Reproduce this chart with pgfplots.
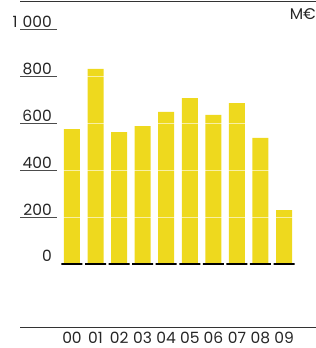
\documentclass[border=0pt]{standalone}
\usepackage{pgfplots}
\pgfplotsset{compat=1.18}
\usepackage{fontspec}
\setmainfont{Poppins}
\definecolor{baryellow}{RGB}{238,217,30}
\begin{document}
\begin{tikzpicture}
\useasboundingbox (0,0) rectangle (316bp,-348bp);
\begin{axis}[
  at={(20bp,-1.5bp)}, anchor=north west,
  scale only axis, width=296bp, height=325.5bp,
  xmin=-2.207, xmax=10.357, ymin=-268.5, ymax=1118.6,
  clip=false,
  axis on top,
  separate axis lines,
  x axis line style={draw=black!80, line width=0.9bp},
  y axis line style={draw=none},
  xtick={0,...,9},
  xticklabels={00,01,02,03,04,05,06,07,08,09},
  xtick style={draw=none},
  xticklabel style={anchor=base, inner sep=0pt, yshift=-16.5bp, font=\fontsize{15.5bp}{16bp}\selectfont, text=black!85},
  ytick={200,400,600,800,1000},
  yticklabels={200\hspace{3bp},400\hspace{3bp},600\hspace{3bp},800\hspace{3bp},1\hspace{5bp}000},
  ytick pos=left,
  tick align=inside,
  major tick length=37bp,
  ytick style={draw=black!70, line width=0.9bp},
  yticklabel style={anchor=base east, inner sep=0pt, xshift=32bp, yshift=2bp, font=\fontsize{15.5bp}{16bp}\selectfont, text=black!85},
  ymajorgrids,
  grid style={white, opacity=0.6, line width=1bp},
  extra y ticks={0},
  extra y tick labels={0},
  extra y tick style={major tick length=0pt, grid=none},
]
\addplot[ybar, bar width=16bp, bar shift=0pt, fill=baryellow, draw=none]
  coordinates {(0,575) (1,831) (2,562) (3,588) (4,648) (5,707) (6,635) (7,686) (8,537) (9,230)};
\addplot[ybar, bar width=21bp, bar shift=0pt, draw=black, line width=2bp, fill=none]
  coordinates {(0,0) (1,0) (2,0) (3,0) (4,0) (5,0) (6,0) (7,0) (8,0) (9,0)};
\node[anchor=base east, inner sep=0pt, font=\fontsize{15.5bp}{16bp}\selectfont, text=black!85] at (rel axis cs:1,1) [yshift=-18bp] {M€};
\end{axis}
\end{tikzpicture}
\end{document}
